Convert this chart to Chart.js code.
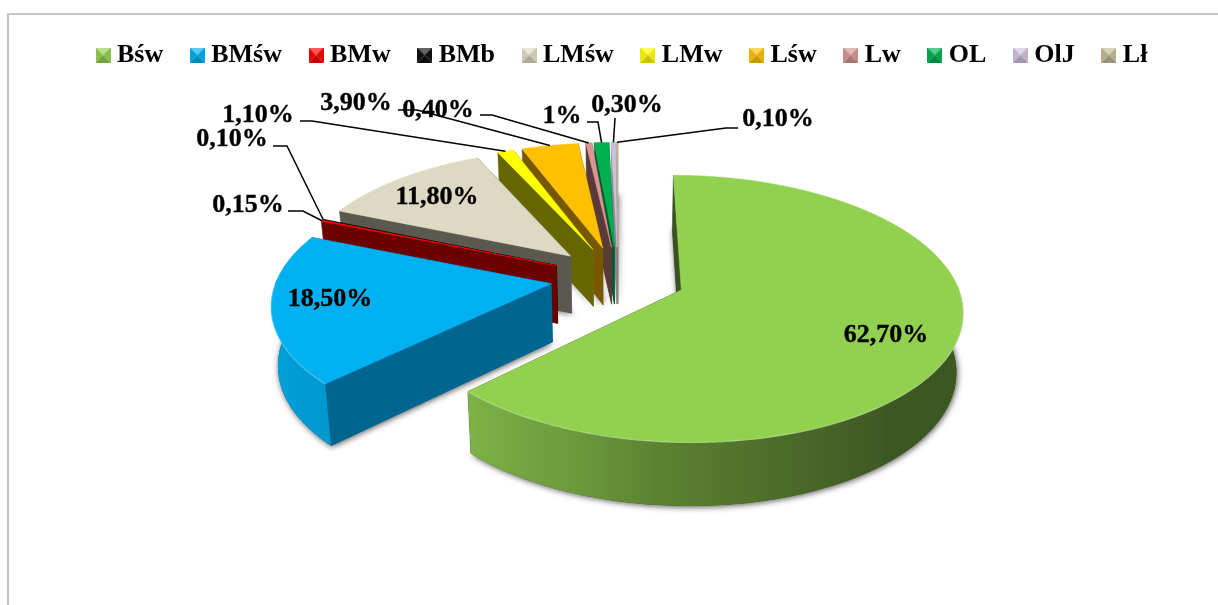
<!DOCTYPE html>
<html>
<head>
<meta charset="utf-8">
<style>
    html, body { margin: 0; padding: 0; background: #fff; overflow: hidden; }
    #frame { position: absolute; left: 7px; top: 13px; width: 1300px; height: 700px; border-top: 2px solid #c4c4c4; border-left: 2px solid #c4c4c4; }
    #chart { position: absolute; left: 0; top: 0; }
</style>
</head>
<body>
<div id="frame"></div>
<canvas id="chart" width="1218" height="605"></canvas>
<script src="https://cdn.jsdelivr.net/npm/chart.js@4/dist/chart.umd.min.js"></script>
<script>
    "use strict";

    // Data
    var categories = ["Bśw", "BMśw", "BMw", "BMb", "LMśw", "LMw", "Lśw", "Lw", "OL", "OlJ", "Lł"];
    var shares = [62.7, 18.5, 0.15, 0.1, 11.8, 1.1, 3.9, 0.4, 1, 0.3, 0.1];
    var shareLabels = ["62,70%", "18,50%", "0,15%", "0,10%", "11,80%", "1,10%", "3,90%", "0,40%", "1%", "0,30%", "0,10%"];

    // Colours
    var topColors = ["#92d050", "#00b0f0", "#ff0000", "#111111", "#ddd9c3", "#ffff00", "#ffc000", "#d99694", "#00b050", "#ccc1da", "#c4bd97"];
    var wallColors = ["#3a5020", "#00668f", "#6b0000", "#080808", "#5b5850", "#666600", "#775800", "#5a3a38", "#005a28", "#8c8496", "#77725c"];

    // Label places: [text x, text y, elbow start x, elbow end x, elbow y], no elbow for labels inside a slice
    var labelSpots = [
        [886, 335], [330, 299],
        [248, 205, 288, 303, 211], [232, 139, 273, 287, 146],
        [437, 197],
        [258, 115, 300, 312, 121], [356, 103, 398, 417, 110], [438, 110, 480, 492, 115],
        [562, 116, 587, 598, 122], [627, 105, 615, 615, 118], [778, 119, 738, 726, 128]
    ];

    // Perspective of the pie plane
    var view = { cx: 618, cy: 277.6, kx: 274, ky: 127.4, p: 0.14, explode: 0.247, shrink: 0.98 };
    var rimShade = [[0, 0.42], [140, 0.42], [160, 0.5], [185, 0.62], [200, 0.73], [225, 0.86], [260, 0.93], [360, 0.93]];

    function project(u, v, low) {
        var d = 1 - view.p * v;
        var x = view.kx * u / d;
        var y = view.cy + view.ky * v / d;
        if (low) {
            return { x: view.cx + x * view.shrink, y: y + 58 + 5 * v };
        }
        return { x: view.cx + x, y: y };
    }

    function shadeAt(deg) {
        for (var i = 1; i < rimShade.length; i++) {
            if (deg <= rimShade[i][0]) {
                var a = rimShade[i - 1], b = rimShade[i];
                return a[1] + (b[1] - a[1]) * (deg - a[0]) / (b[0] - a[0]);
            }
        }
        return 1;
    }

    function darken(hex, f) {
        var n = parseInt(hex.slice(1), 16);
        return "rgb(" + Math.round((n >> 16) * f) + "," + Math.round(((n >> 8) & 255) * f) + "," + Math.round((n & 255) * f) + ")";
    }

    function tracePoly(ctx, pts) {
        ctx.beginPath();
        pts.forEach(function (p, i) {
            if (i) { ctx.lineTo(p.x, p.y); } else { ctx.moveTo(p.x, p.y); }
        });
        ctx.closePath();
    }

    function fillPoly(ctx, pts, color) {
        tracePoly(ctx, pts);
        ctx.fillStyle = color;
        ctx.fill();
        if (typeof color === "string") {
            ctx.strokeStyle = color;
            ctx.lineWidth = 0.5;
            ctx.stroke();
        }
    }

    function meanY(pts) {
        return pts.reduce(function (t, p) { return t + p.y; }, 0) / pts.length;
    }

    function sliceGeometry(arc) {
        var props = arc.getProps(["startAngle", "endAngle"], true);
        var mid = (props.startAngle + props.endAngle) / 2;
        var g = {
            start: props.startAngle, end: props.endAngle, mid: mid,
            ou: view.explode * Math.cos(mid), ov: view.explode * Math.sin(mid)
        };
        g.steps = Math.max(2, Math.ceil((g.end - g.start) * 60));
        g.apexTop = project(g.ou, g.ov);
        g.apexLow = project(g.ou, g.ov, true);
        g.rimTop = [];
        g.rimLow = [];
        g.angles = [];
        for (var s = 0; s <= g.steps; s++) {
            var a = g.start + (g.end - g.start) * s / g.steps;
            g.angles.push(a);
            g.rimTop.push(project(g.ou + Math.cos(a), g.ov + Math.sin(a)));
            g.rimLow.push(project(g.ou + Math.cos(a), g.ov + Math.sin(a), true));
        }
        return g;
    }

    function degAt(a) {
        return ((a * 180 / Math.PI + 90) % 360 + 360) % 360;
    }

    // Only the front of the rim is seen; its colour follows the screen x
    function drawRim(ctx, g, index) {
        var front = [];
        g.angles.forEach(function (a, i) {
            if (Math.sin(a) >= -0.05) { front.push(i); }
        });
        if (front.length < 2) { return; }
        var xs = front.map(function (i) { return g.rimTop[i].x; });
        var minX = Math.min.apply(null, xs), maxX = Math.max.apply(null, xs);
        var grad = ctx.createLinearGradient(minX, 0, maxX, 0);
        front.forEach(function (i) {
            grad.addColorStop((g.rimTop[i].x - minX) / (maxX - minX), darken(topColors[index], shadeAt(degAt(g.angles[i]))));
        });
        var upper = front.map(function (i) { return g.rimTop[i]; });
        var lower = front.map(function (i) { return g.rimLow[i]; }).reverse();
        fillPoly(ctx, upper.concat(lower), grad);
    }

    function drawShadow(ctx, g, index) {
        ctx.save();
        ctx.shadowColor = "rgba(0,0,0,0.7)";
        ctx.shadowBlur = 6;
        ctx.shadowOffsetX = 1;
        ctx.shadowOffsetY = 1;
        tracePoly(ctx, [g.apexLow].concat(g.rimLow));
        ctx.fillStyle = wallColors[index];
        ctx.fill();
        ctx.restore();
    }

    function drawSlice(ctx, g, index) {
        var last = g.steps;
        var walls = [
            [g.apexTop, g.rimTop[0], g.rimLow[0], g.apexLow],
            [g.apexTop, g.rimTop[last], g.rimLow[last], g.apexLow]
        ];
        walls.sort(function (a, b) { return meanY(a) - meanY(b); });
        walls.forEach(function (w) { fillPoly(ctx, w, wallColors[index]); });
        drawRim(ctx, g, index);
        fillPoly(ctx, [g.apexTop].concat(g.rimTop), topColors[index]);

        // light edge along the front of the top face
        ctx.strokeStyle = "rgba(255,255,255,0.3)";
        ctx.lineWidth = 1.2;
        ctx.beginPath();
        var pen = false;
        g.rimTop.forEach(function (p, i) {
            if (Math.sin(g.angles[i]) > 0) {
                if (pen) { ctx.lineTo(p.x, p.y); } else { ctx.moveTo(p.x, p.y); pen = true; }
            }
        });
        ctx.stroke();
    }

    // Draws the pie controller's arcs as an extruded, exploded pie
    var pie3d = {
        id: "pie3d",
        beforeDatasetsDraw: function (chart) {
            var ctx = chart.ctx;
            var arcs = chart.getDatasetMeta(0).data;
            var order = arcs.map(function (arc, i) { return { i: i, g: sliceGeometry(arc) }; });
            order.sort(function (a, b) { return a.g.ov - b.g.ov; });
            ctx.save();
            order.forEach(function (o) { drawShadow(ctx, o.g, o.i); });
            order.forEach(function (o) { drawSlice(ctx, o.g, o.i); });
            ctx.restore();
            return false;
        },
        afterDraw: function (chart) {
            var ctx = chart.ctx;
            var arcs = chart.getDatasetMeta(0).data;
            ctx.save();
            ctx.font = "bold 26px 'Liberation Serif'";
            ctx.textAlign = "center";
            ctx.textBaseline = "middle";
            ctx.fillStyle = "#000";
            ctx.strokeStyle = "#000";
            ctx.lineWidth = 0.35;
            shareLabels.forEach(function (text, i) {
                var spot = labelSpots[i];
                ctx.fillText(text, spot[0], spot[1]);
                ctx.strokeText(text, spot[0], spot[1]);
            });
            ctx.lineWidth = 1.5;
            arcs.forEach(function (arc, i) {
                var spot = labelSpots[i];
                if (spot.length < 3) { return; }
                var g = sliceGeometry(arc);
                var tip = project(g.ou + Math.cos(g.mid), g.ov + Math.sin(g.mid));
                ctx.beginPath();
                ctx.moveTo(spot[2], spot[4]);
                ctx.lineTo(spot[3], spot[4]);
                ctx.lineTo(tip.x, tip.y);
                ctx.stroke();
            });
            ctx.restore();
        }
    };

    // Bevelled legend marker
    function legendIcon(color) {
        var size = 15;
        var c = document.createElement("canvas");
        c.width = size;
        c.height = size;
        var g = c.getContext("2d");
        var mid = size / 2;
        var sides = [
            [[0, 0], [size, 0], 1.0, "#ffffff", 0.35],
            [[size, 0], [size, size], 0.92, "#000000", 0],
            [[size, size], [0, size], 0.78, "#000000", 0],
            [[0, size], [0, 0], 0.92, "#000000", 0]
        ];
        sides.forEach(function (s) {
            g.beginPath();
            g.moveTo(s[0][0], s[0][1]);
            g.lineTo(s[1][0], s[1][1]);
            g.lineTo(mid, mid);
            g.closePath();
            g.fillStyle = darken(color, s[2]);
            g.fill();
            g.globalAlpha = s[4];
            g.fillStyle = s[3];
            g.fill();
            g.globalAlpha = 1;
        });
        return c;
    }

    var legendIcons = topColors.map(legendIcon);

    // Pie Chart
    var myChart = new Chart(document.getElementById("chart").getContext("2d"), {
        type: "pie",
        data: {
            labels: categories,
            datasets: [{
                data: shares,
                backgroundColor: topColors,
                borderWidth: 0
            }]
        },
        options: {
            responsive: false,
            animation: false,
            layout: { padding: { left: 69, top: 9 } },
            plugins: {
                tooltip: { enabled: false },
                legend: {
                    position: "top",
                    align: "start",
                    labels: {
                        usePointStyle: true,
                        boxWidth: 2,
                        padding: 33,
                        color: "#000",
                        font: { family: "'Liberation Serif'", size: 26, weight: "bold" },
                        generateLabels: function () {
                            return categories.map(function (name, i) {
                                return {
                                    text: name,
                                    fillStyle: topColors[i],
                                    strokeStyle: topColors[i],
                                    lineWidth: 0,
                                    pointStyle: legendIcons[i],
                                    fontColor: "#000",
                                    index: i
                                };
                            });
                        }
                    }
                }
            }
        },
        plugins: [pie3d]
    });
</script>
</body>
</html>
